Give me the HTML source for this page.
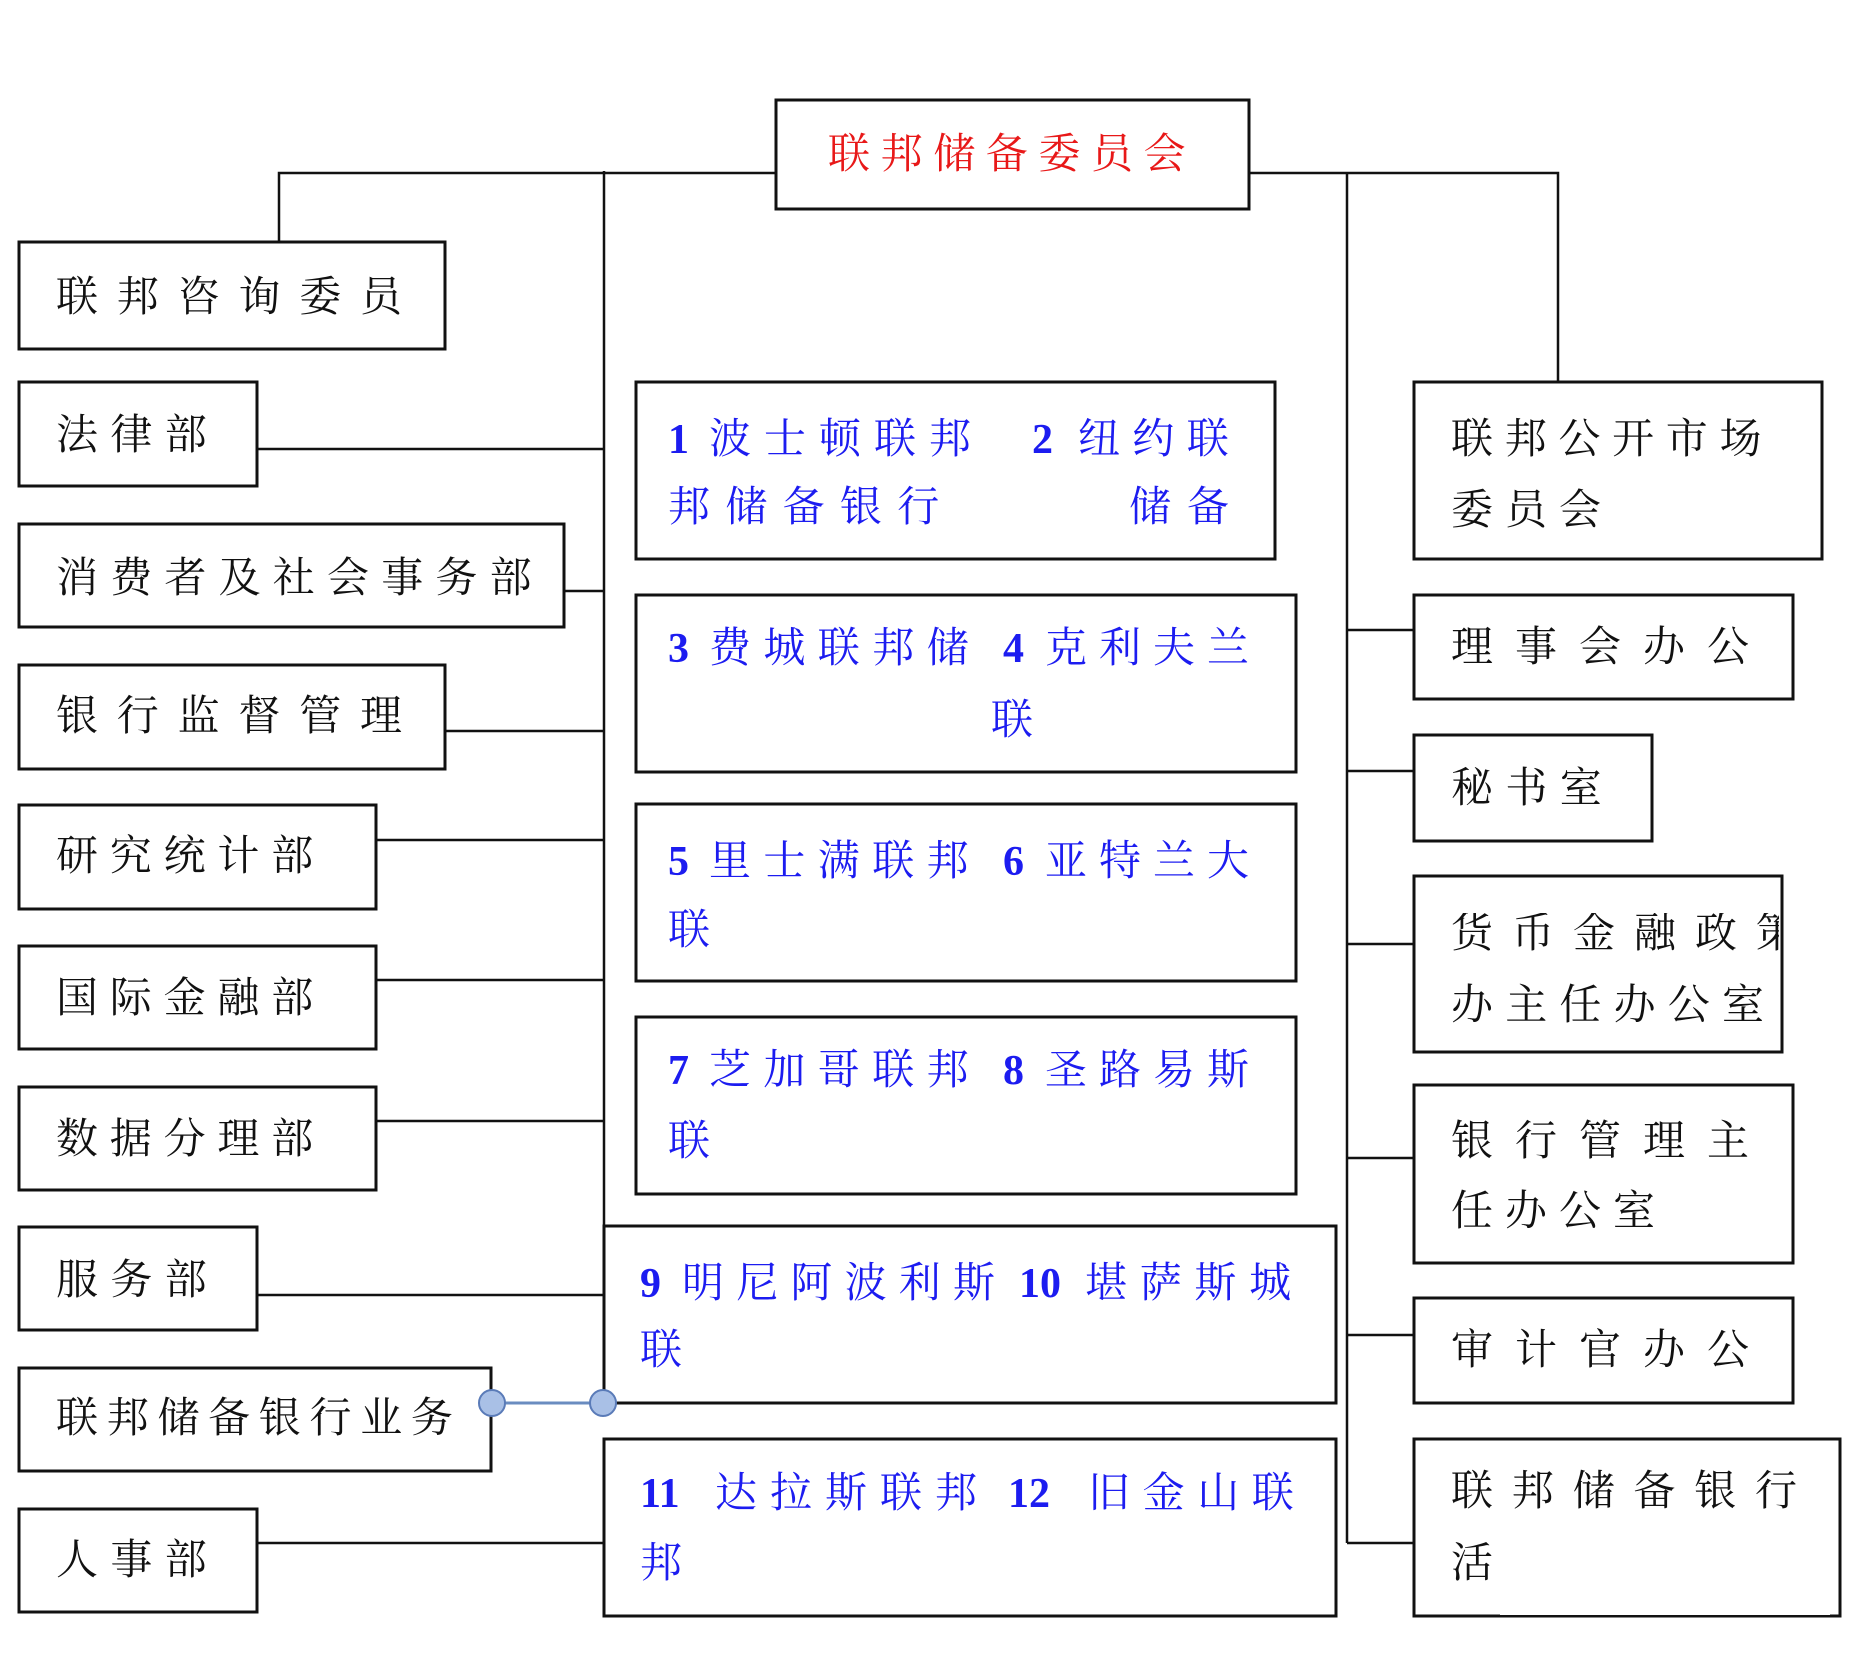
<!DOCTYPE html>
<html><head><meta charset="utf-8"><style>
html,body{margin:0;padding:0;background:#fff;}
body{width:1854px;height:1668px;position:relative;overflow:hidden;font-family:"Liberation Serif","Noto Serif CJK SC","Noto Sans CJK SC",serif;}
.t{position:absolute;white-space:nowrap;font-size:42px;line-height:42px;color:#111;}
.b{color:#1c1cf0;}
.r{color:#e81818;}
.n{font-weight:bold;}
svg{position:absolute;left:0;top:0;}
</style></head><body>
<svg width="1854" height="1668" viewBox="0 0 1854 1668">
<g fill="#fff" stroke="#111" stroke-width="3">
<rect x="776" y="100" width="473" height="109"/>
<rect x="19" y="242" width="426" height="107"/>
<rect x="19" y="382" width="238" height="104"/>
<rect x="19" y="524" width="545" height="103"/>
<rect x="19" y="665" width="426" height="104"/>
<rect x="19" y="805" width="357" height="104"/>
<rect x="19" y="946" width="357" height="103"/>
<rect x="19" y="1087" width="357" height="103"/>
<rect x="19" y="1227" width="238" height="103"/>
<rect x="19" y="1368" width="472" height="103"/>
<rect x="19" y="1509" width="238" height="103"/>
<rect x="636" y="382" width="639" height="177"/>
<rect x="636" y="595" width="660" height="177"/>
<rect x="636" y="804" width="660" height="177"/>
<rect x="636" y="1017" width="660" height="177"/>
<rect x="604" y="1226" width="732" height="177"/>
<rect x="604" y="1439" width="732" height="177"/>
<rect x="1414" y="382" width="408" height="177"/>
<rect x="1414" y="595" width="379" height="104"/>
<rect x="1414" y="735" width="238" height="106"/>
<rect x="1414" y="876" width="368" height="176"/>
<rect x="1414" y="1085" width="379" height="178"/>
<rect x="1414" y="1298" width="379" height="105"/>
<rect x="1414" y="1439" width="426" height="177"/>
</g>
<g stroke="#111" stroke-width="2.5" fill="none">
<polyline points="279,242 279,173 776,173"/>
<line x1="604" y1="171" x2="604" y2="1226"/>
<line x1="257" y1="449" x2="604" y2="449"/>
<line x1="564" y1="591" x2="604" y2="591"/>
<line x1="445" y1="731" x2="604" y2="731"/>
<line x1="376" y1="840" x2="604" y2="840"/>
<line x1="376" y1="980" x2="604" y2="980"/>
<line x1="376" y1="1121" x2="604" y2="1121"/>
<line x1="257" y1="1295" x2="604" y2="1295"/>
<line x1="257" y1="1543" x2="604" y2="1543"/>
<polyline points="1249,173 1558,173 1558,382"/>
<line x1="1347" y1="173" x2="1347" y2="1543"/>
<line x1="1347" y1="630" x2="1414" y2="630"/>
<line x1="1347" y1="771" x2="1414" y2="771"/>
<line x1="1347" y1="944" x2="1414" y2="944"/>
<line x1="1347" y1="1158" x2="1414" y2="1158"/>
<line x1="1347" y1="1335" x2="1414" y2="1335"/>
<line x1="1347" y1="1543" x2="1414" y2="1543"/>
</g>
<line x1="492" y1="1403" x2="603" y2="1403" stroke="#6a8cc0" stroke-width="3"/>
<circle cx="492" cy="1403" r="13" fill="#a9c0e6" stroke="#5a7bb8" stroke-width="2"/>
<circle cx="603" cy="1403" r="13" fill="#a9c0e6" stroke="#5a7bb8" stroke-width="2"/>
<rect x="1500" y="1595" width="330" height="20" fill="#fff"/>
</svg>

<div class="t r" style="left:828px;top:134px;letter-spacing:10.6px;">联邦储备委员会</div>

<div class="t" style="left:56px;top:277px;letter-spacing:18.8px;">联邦咨询委员</div>
<div class="t" style="left:56px;top:415px;letter-spacing:12.4px;">法律部</div>
<div class="t" style="left:56px;top:558px;letter-spacing:12.2px;">消费者及社会事务部</div>
<div class="t" style="left:56px;top:696px;letter-spacing:18.8px;">银行监督管理</div>
<div class="t" style="left:56px;top:836px;letter-spacing:11.8px;">研究统计部</div>
<div class="t" style="left:56px;top:978px;letter-spacing:11.8px;">国际金融部</div>
<div class="t" style="left:56px;top:1119px;letter-spacing:11.8px;">数据分理部</div>
<div class="t" style="left:56px;top:1260px;letter-spacing:12.4px;">服务部</div>
<div class="t" style="left:56px;top:1398px;letter-spacing:8.7px;">联邦储备银行业务</div>
<div class="t" style="left:56px;top:1540px;letter-spacing:12.4px;">人事部</div>

<div class="t b n" style="left:668px;top:419px;">1</div>
<div class="t b" style="left:709px;top:419px;letter-spacing:13px;">波士顿联邦</div>
<div class="t b n" style="left:1032px;top:419px;">2</div>
<div class="t b" style="left:1078px;top:419px;letter-spacing:12.4px;">纽约联</div>
<div class="t b" style="left:668px;top:487px;letter-spacing:15.3px;">邦储备银行</div>
<div class="t b" style="left:1129px;top:487px;letter-spacing:16px;">储备</div>

<div class="t b n" style="left:668px;top:628px;">3</div>
<div class="t b" style="left:709px;top:628px;letter-spacing:12.4px;">费城联邦储</div>
<div class="t b n" style="left:1003px;top:628px;">4</div>
<div class="t b" style="left:1045px;top:628px;letter-spacing:12px;">克利夫兰</div>
<div class="t b" style="left:991px;top:700px;">联</div>

<div class="t b n" style="left:668px;top:841px;">5</div>
<div class="t b" style="left:709px;top:841px;letter-spacing:12.4px;">里士满联邦</div>
<div class="t b n" style="left:1003px;top:841px;">6</div>
<div class="t b" style="left:1045px;top:841px;letter-spacing:12px;">亚特兰大</div>
<div class="t b" style="left:668px;top:910px;">联</div>

<div class="t b n" style="left:668px;top:1050px;">7</div>
<div class="t b" style="left:709px;top:1050px;letter-spacing:12.4px;">芝加哥联邦</div>
<div class="t b n" style="left:1003px;top:1050px;">8</div>
<div class="t b" style="left:1045px;top:1050px;letter-spacing:12px;">圣路易斯</div>
<div class="t b" style="left:668px;top:1121px;">联</div>

<div class="t b n" style="left:640px;top:1263px;">9</div>
<div class="t b" style="left:682px;top:1263px;letter-spacing:12.2px;">明尼阿波利斯</div>
<div class="t b n" style="left:1019px;top:1263px;">10</div>
<div class="t b" style="left:1085px;top:1263px;letter-spacing:12.7px;">堪萨斯城</div>
<div class="t b" style="left:640px;top:1330px;">联</div>

<div class="t b n" style="left:640px;top:1473px;">11</div>
<div class="t b" style="left:715px;top:1473px;letter-spacing:13px;">达拉斯联邦</div>
<div class="t b n" style="left:1008px;top:1473px;">12</div>
<div class="t b" style="left:1088px;top:1473px;letter-spacing:12.6px;">旧金山联</div>
<div class="t b" style="left:640px;top:1543px;">邦</div>

<div class="t" style="left:1451px;top:419px;letter-spacing:11.7px;">联邦公开市场</div>
<div class="t" style="left:1451px;top:490px;letter-spacing:12px;">委员会</div>
<div class="t" style="left:1451px;top:627px;letter-spacing:22px;">理事会办公</div>
<div class="t" style="left:1451px;top:768px;letter-spacing:12.4px;">秘书室</div>
<div class="t" style="left:1451px;top:913px;width:328px;overflow:hidden;letter-spacing:19px;">货币金融政策</div>
<div class="t" style="left:1451px;top:985px;letter-spacing:12.2px;">办主任办公室</div>
<div class="t" style="left:1451px;top:1121px;letter-spacing:22px;">银行管理主</div>
<div class="t" style="left:1451px;top:1191px;letter-spacing:12px;">任办公室</div>
<div class="t" style="left:1451px;top:1330px;letter-spacing:22px;">审计官办公</div>
<div class="t" style="left:1451px;top:1471px;letter-spacing:18.8px;">联邦储备银行</div>
<div class="t" style="left:1451px;top:1543px;">活</div>
</body></html>
